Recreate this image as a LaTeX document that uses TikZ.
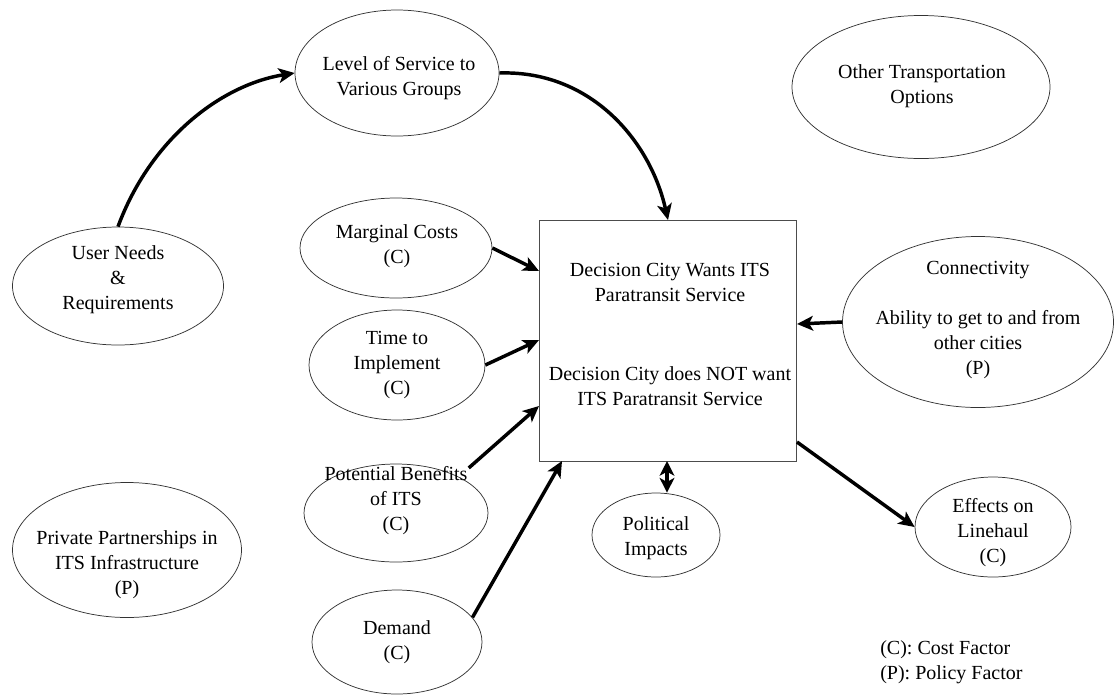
\documentclass[tikz,border=0pt]{standalone}
\usepackage{fontspec}
\setmainfont{Liberation Serif}
\usetikzlibrary{arrows.meta,shapes.geometric}
\tikzset{
  oval/.style 2 args={ellipse,draw=black!80,line width=0.55pt,
    minimum width=#1*0.75pt,minimum height=#2*0.75pt,inner sep=0pt},
  txt/.style={align=center,inner sep=0pt,font=\fontsize{15}{18.75}\selectfont},
  decision/.style={rectangle,draw=black!70,line width=0.55pt,inner sep=0pt,
    minimum width=257*0.75pt,minimum height=241*0.75pt},
  arr/.style={line width=2.6pt,-{Stealth[length=12pt,width=11pt,inset=3pt]}},
  darr/.style={line width=2.6pt,{Stealth[length=11pt,width=11pt,inset=3pt]}-{Stealth[length=11pt,width=11pt,inset=3pt]}}}
\begin{document}
\begin{tikzpicture}[x=0.75pt,y=-0.75pt]
\useasboundingbox (0,0) rectangle (1116,697);
\fill[white] (0,0) rectangle (1116,697);

% ---- ellipses (factors) ----
\node[oval={204}{126}] (los) at (397,73) {};
\node[txt] (los-t) at (399,78) {Level of Service to\\Various Groups};

\node[oval={258}{143}] (ot) at (921,87) {};
\node[txt] (ot-t) at (922,86) {Other Transportation\\Options};

\node[oval={211}{118}] (un) at (118,286) {};
\node[txt] (un-t) at (118,280) {User Needs\\\&\\Requirements};

\node[oval={192}{100}] (mc) at (396,248) {};
\node[txt] (mc-t) at (397,246) {Marginal Costs\\(C)};

\node[oval={176}{110}] (ti) at (397,365) {};
\node[txt] (ti-t) at (397,365) {Time to\\Implement\\(C)};

\node[oval={184}{98}] (pb) at (396,513) {};
\node[txt] (pb-t) at (396,501) {Potential Benefits\\of ITS\\(C)};

\node[oval={170}{104}] (dm) at (397,642) {};
\node[txt] (dm-t) at (397,642) {Demand\\(C)};

\node[oval={229}{135}] (pp) at (127,550) {};
\node[txt] (pp-t) at (127,565) {Private Partnerships in\\ITS Infrastructure\\(P)};

\node[oval={128}{84}] (pi) at (656,535) {};
\node[txt] (pi-t) at (656,538) {Political\\Impacts};

\node[oval={271}{171}] (cn) at (978,322) {};
\node[txt] (cn-t) at (978,320) {Connectivity\\[18.75pt]Ability to get to and from\\other cities\\(P)};

\node[oval={156}{100}] (ef) at (993,527) {};
\node[txt] (ef-t) at (993,533) {Effects on\\Linehaul\\(C)};

% ---- decision box ----
\node[decision] (box) at (667.5,340.5) {};
\node[txt] (box-yes) at (670,282) {Decision City Wants ITS\\Paratransit Service};
\node[txt] (box-no) at (670,386) {Decision City does NOT want\\ITS Paratransit Service};

% ---- legend ----
\node[txt,align=left,anchor=west] (legend) at (880,662) {(C): Cost Factor\\(P): Policy Factor};

% ---- connection points on the box ----
\coordinate (in-los) at (668,220);
\coordinate (in-mc) at (539,271);
\coordinate (in-ti) at (539,340);
\coordinate (in-pb) at (539,406);
\coordinate (in-dm) at (562,461);
\coordinate (in-cn) at (797,324);
\coordinate (out-ef) at (797,442);
\coordinate (io-pi) at (667,461);

% ---- connectors ----
\draw[arr] (un.north) .. controls (150,140) and (220,85) .. (los.west);
\draw[arr] (los.east) .. controls (590,70) and (650,140) .. (in-los);
\draw[arr] (mc.east) -- (in-mc);
\draw[arr] (ti.east) -- (in-ti);
\draw[arr,shorten <=10pt] (pb.30) -- (in-pb);
\draw[arr] (dm.18) -- (in-dm);
\draw[arr] (cn.west) -- (in-cn);
\draw[arr] (out-ef) -- (ef.west);
\draw[darr] (io-pi) -- (io-pi |- pi.north);
\end{tikzpicture}
\end{document}
